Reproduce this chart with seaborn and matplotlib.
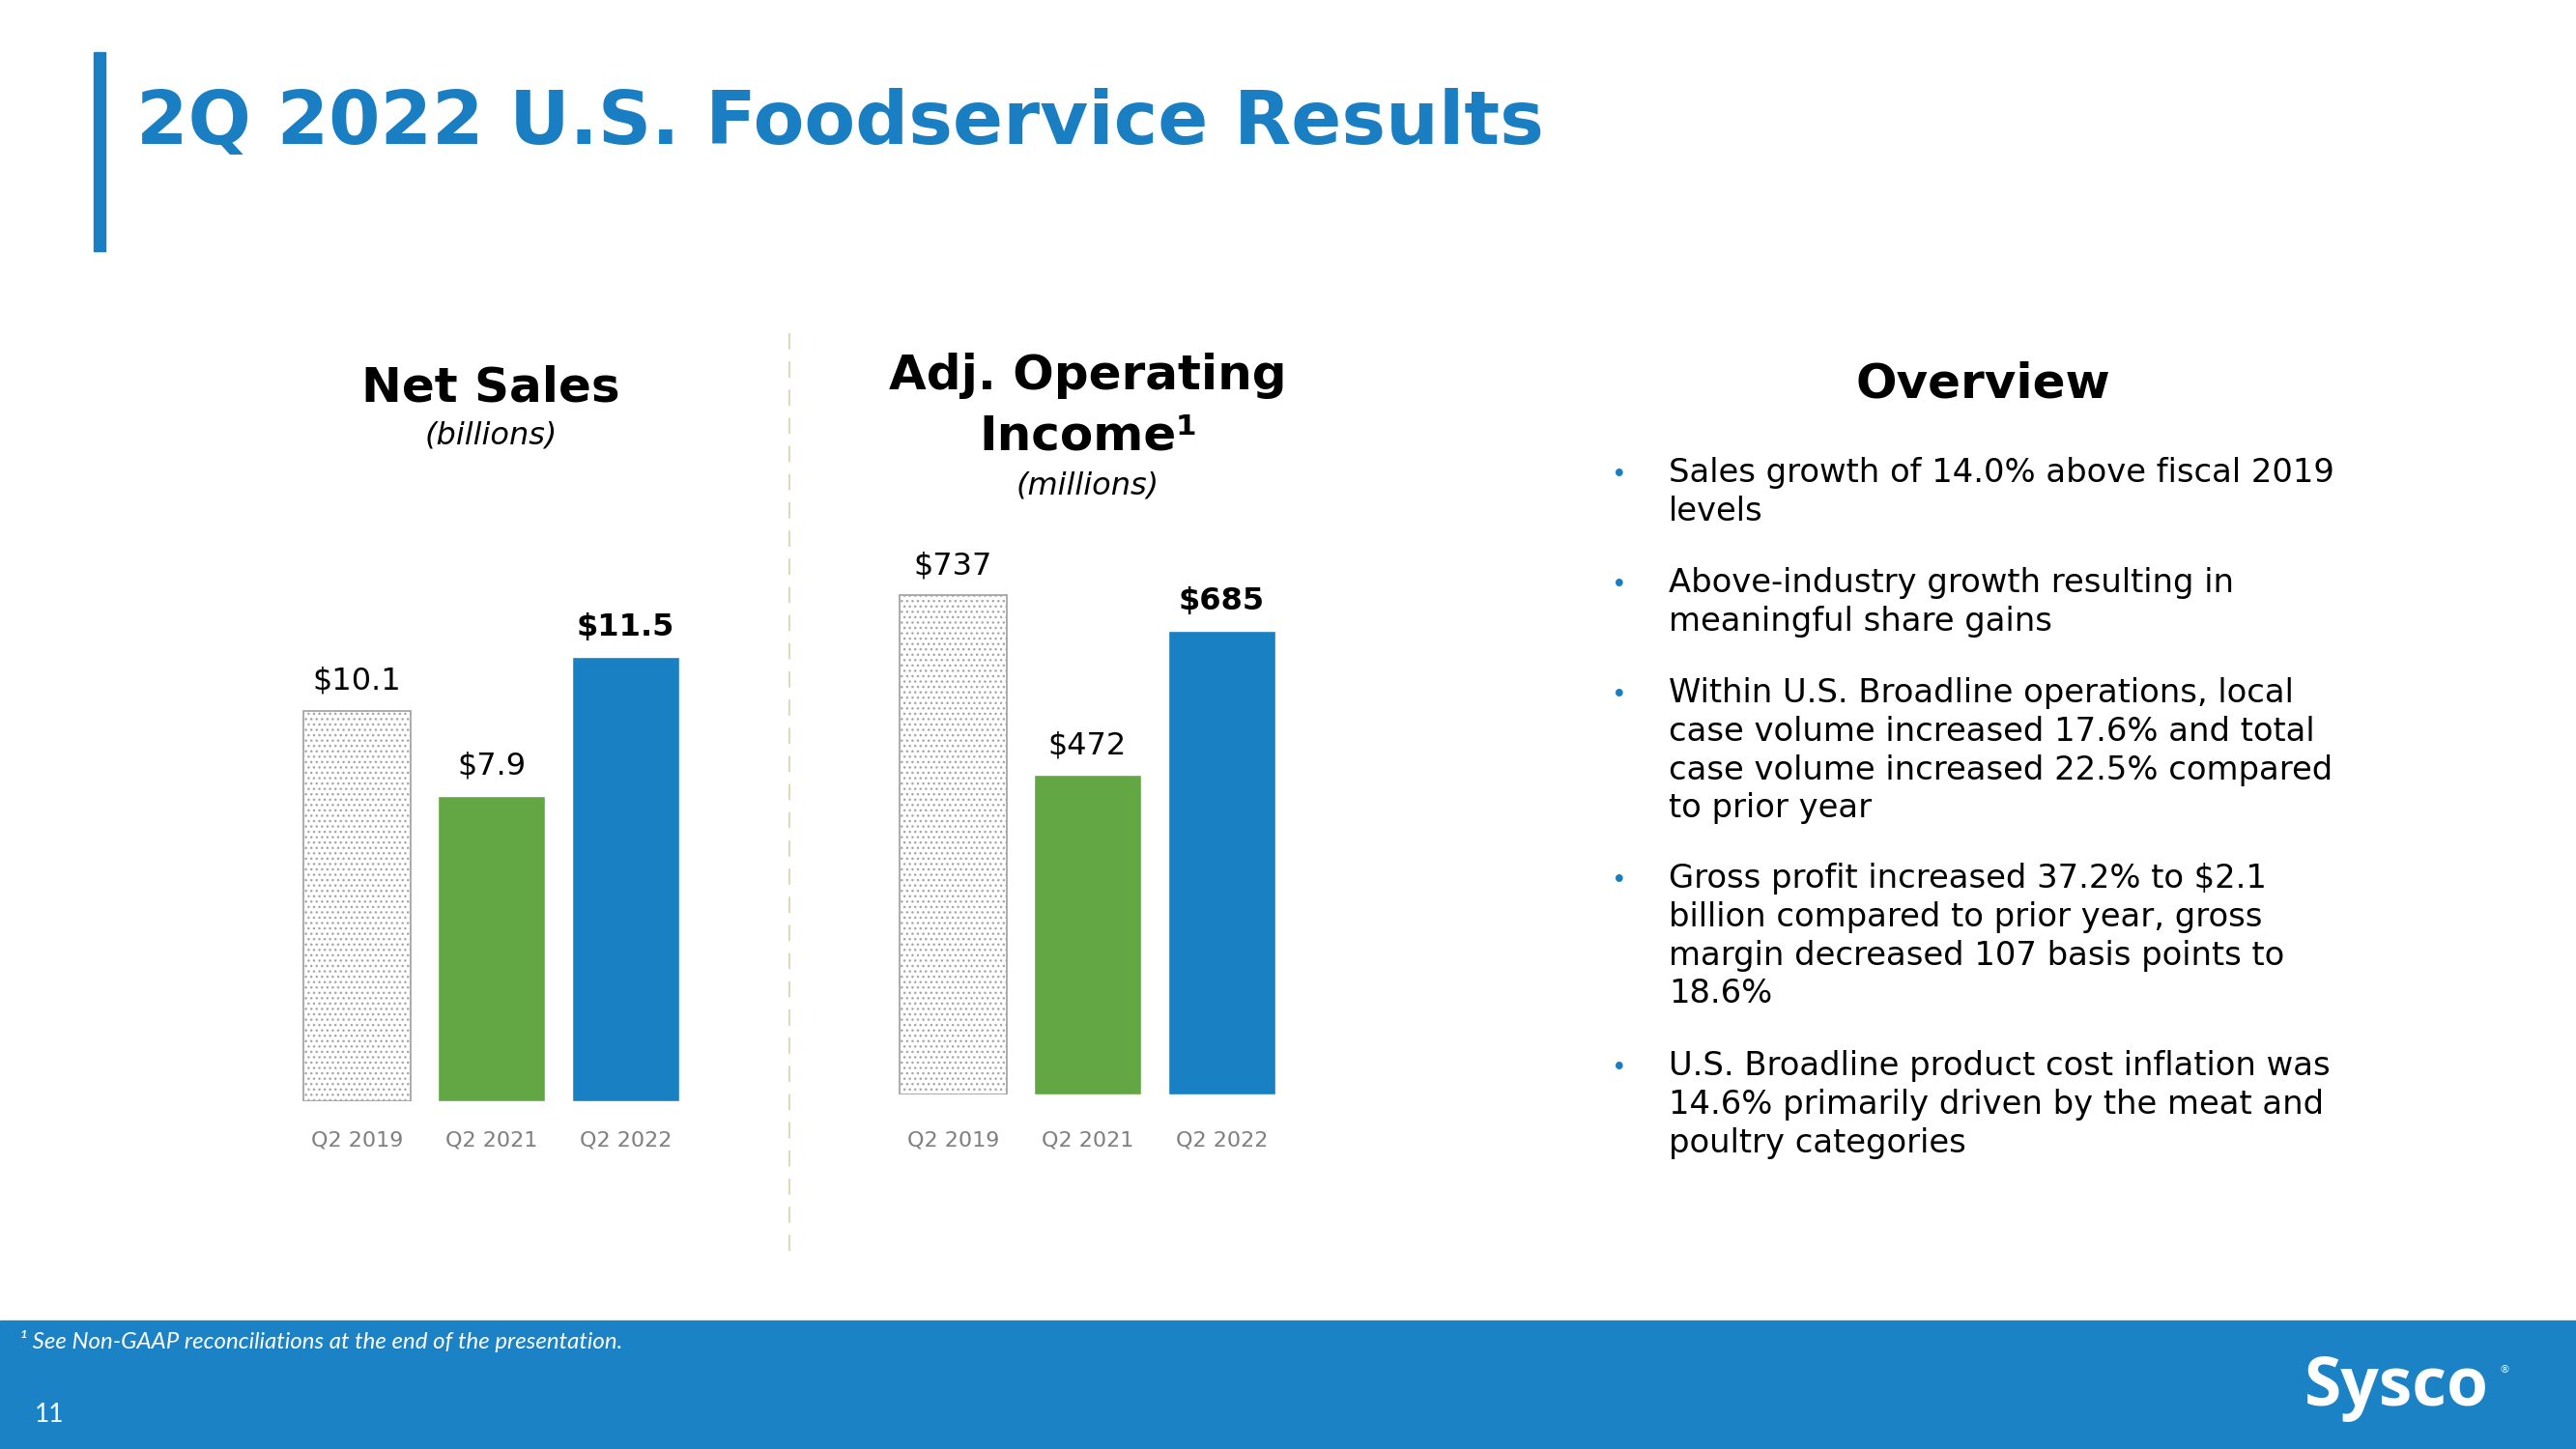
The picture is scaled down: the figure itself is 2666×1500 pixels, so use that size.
import matplotlib
matplotlib.use('Agg')
import matplotlib.pyplot as plt
import seaborn as sns
from matplotlib.patches import Rectangle

# Data
quarters = ['Q2 2019', 'Q2 2021', 'Q2 2022']
net_sales = [10.1, 7.9, 11.5]          # billions
adj_op_income = [737, 472, 685]        # millions
bar_colors = ['#ffffff', '#62a744', '#1a80c4']

overview_bullets = [
    ['Sales growth of 14.0% above fiscal 2019', 'levels'],
    ['Above-industry growth resulting in', 'meaningful share gains'],
    ['Within U.S. Broadline operations, local',
     'case volume increased 17.6% and total',
     'case volume increased 22.5% compared',
     'to prior year'],
    ['Gross profit increased 37.2% to $2.1',
     'billion compared to prior year, gross',
     'margin decreased 107 basis points to',
     '18.6%'],
    ['U.S. Broadline product cost inflation was',
     '14.6% primarily driven by the meat and',
     'poultry categories'],
]
bullet_y = [488, 602, 716, 908, 1102]

BLUE = '#1a7fc2'

sns.set_style('white')
plt.rcParams['font.family'] = ['DejaVu Sans']
plt.rcParams['text.color'] = 'black'

W, H = 2666, 1500
fig = plt.figure(figsize=(W / 100, H / 100), dpi=100)


def fx(x):
    return x / W


def fy(y):
    return 1 - y / H


def draw_bars(rect, values, ymax, fmt, pad):
    ax = fig.add_axes(rect)
    sns.barplot(x=quarters, y=values, hue=quarters, palette=bar_colors,
                legend=False, saturation=1, width=0.8, ax=ax)
    ax.set_xlim(-0.6, 2.6)
    ax.set_ylim(0, ymax)
    sns.despine(ax=ax, left=True, bottom=True)
    ax.set_yticks([])
    ax.set_xlabel('')
    ax.set_ylabel('')
    ax.patch.set_alpha(0)
    ax.tick_params(axis='x', length=0, pad=pad, labelsize=16, labelcolor='#7f7f7f')

    # prior-year bar is a dotted outline
    first = ax.patches[0]
    first.set_hatch('...')
    first.set_edgecolor('#a6a6a6')
    first.set_linewidth(1.3)

    for i, (p, v) in enumerate(zip(ax.patches, values)):
        ax.annotate(fmt.format(v), (p.get_x() + p.get_width() / 2, p.get_height()),
                    xytext=(0, 22), textcoords='offset points', ha='center', va='center',
                    fontsize=23, color='black',
                    fontweight='bold' if i == len(values) - 1 else 'normal')
    return ax


# Net sales: baseline y=1140 px, 40 px per $1B
ax1 = draw_bars([fx(286), fy(1140), 445 / W, 14 * 40.0 / H], net_sales, 14, '${:.1f}', 22)
# Adj. operating income: baseline y=1133 px, 0.701 px per $1M
ax2 = draw_bars([fx(903), fy(1133), 445 / W, 850 * 0.701 / H], adj_op_income, 850, '${:.0f}', 27)

# Title + accent bar
fig.patches.append(Rectangle((fx(97), fy(260)), 12 / W, 206 / H, transform=fig.transFigure,
                             color=BLUE, zorder=0))
fig.text(fx(141), fy(128), '2Q 2022 U.S. Foodservice Results', fontsize=55.4,
         fontweight='bold', color=BLUE, ha='left', va='center')

# Section headings
fig.text(fx(508), fy(401), 'Net Sales', fontsize=36, fontweight='bold', ha='center', va='center')
fig.text(fx(508), fy(451), '(billions)', fontsize=23, style='italic', ha='center', va='center')
fig.text(fx(1126), fy(389), 'Adj. Operating', fontsize=36, fontweight='bold', ha='center', va='center')
fig.text(fx(1126), fy(452), 'Income\u00b9', fontsize=36, fontweight='bold', ha='center', va='center')
fig.text(fx(1126), fy(503), '(millions)', fontsize=23, style='italic', ha='center', va='center')
fig.text(fx(2052), fy(398), 'Overview', fontsize=36, fontweight='bold', ha='center', va='center')

# Dashed divider between the two charts
fig.add_artist(plt.Line2D([fx(817), fx(817)], [fy(345), fy(1302)], transform=fig.transFigure,
                          color='#dcd9bd', lw=1.5, ls=(0, (8, 6))))

# Overview bullets
pitch = 39.8
for y0, lines in zip(bullet_y, overview_bullets):
    fig.text(fx(1668), fy(y0 + 11), '\u2022', fontsize=19, color=BLUE, ha='left', va='baseline')
    for j, line in enumerate(lines):
        fig.text(fx(1727), fy(y0 + j * pitch + 11), line, fontsize=24.3,
                 ha='left', va='baseline')

# Footer band
fig.patches.append(Rectangle((0, 0), 1, 133 / H, transform=fig.transFigure,
                             color='#1b82c5', zorder=0))
fig.text(fx(20), fy(1388), '\u00b9 See Non-GAAP reconciliations at the end of the presentation.',
         fontsize=17.3, style='italic', color='white', family=['Lato', 'DejaVu Sans'],
         ha='left', va='center')
fig.text(fx(36), fy(1465), '11', fontsize=19, color='white', family=['Lato', 'DejaVu Sans'],
         ha='left', va='center')
fig.text(fx(2385), fy(1437), 'Sysco', fontsize=50, fontweight='bold', color='white',
         family=['Open Sans', 'DejaVu Sans'], ha='left', va='center')
fig.text(fx(2586), fy(1418), '\u00ae', fontsize=8, color='white', ha='left', va='center')

fig.savefig('out.png', dpi=100)
